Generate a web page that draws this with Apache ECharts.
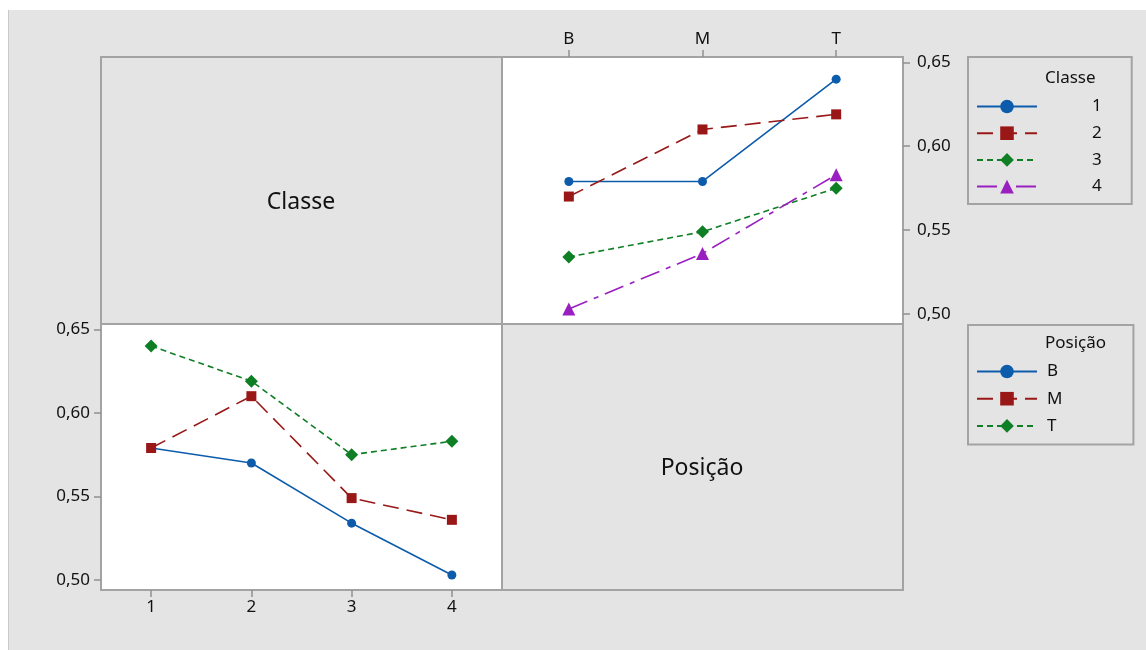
<!DOCTYPE html>
<html>
<head>
<meta charset="utf-8">
<script src="https://cdn.jsdelivr.net/npm/echarts@6/dist/echarts.min.js"></script>
<style>
html,body{margin:0;padding:0;background:#fff;}
#bg{position:absolute;left:8px;top:10px;width:1138px;height:640px;background:#e4e4e4;border-left:1px solid #c9c9c9;box-sizing:border-box;}
#chart{position:absolute;left:0;top:0;width:1146px;height:650px;}
</style>
</head>
<body>
<div id="bg"></div>
<div id="chart"></div>
<script>
// ---- data ----
const posicaoCats = ['B', 'M', 'T'];
const classeCats = ['1', '2', '3', '4'];
// Top-right panel: one line per Classe over Posição
const classe1 = [0.579, 0.579, 0.640];
const classe2 = [0.570, 0.610, 0.619];
const classe3 = [0.534, 0.549, 0.575];
const classe4 = [0.503, 0.536, 0.583];
// Bottom-left panel: one line per Posição over Classe
const posB = [0.579, 0.570, 0.534, 0.503];
const posM = [0.579, 0.610, 0.549, 0.536];
const posT = [0.640, 0.619, 0.575, 0.583];
const yTicks = [0.50, 0.55, 0.60, 0.65];

const BLUE = '#0d5cab', RED = '#9a1717', GREEN = '#0f7f26', PURPLE = '#9a1fc0';
const FONT = 'Noto Sans';
const frame = '#a3a3a3';
const fmt = v => v.toFixed(2).replace('.', ',');

const styles = {
  s1: {color: BLUE, type: 'solid', symbol: 'circle', size: 9},
  s2: {color: RED, type: [16, 8], symbol: 'rect', size: 10},
  s3: {color: GREEN, type: [6, 4], symbol: 'diamond', size: 13},
  s4: {color: PURPLE, type: [20, 7, 5, 7], symbol: 'triangle', size: 13}
};
function mk(name, data, st, xi, yi) {
  return {
    name: name, type: 'line', data: data, xAxisIndex: xi, yAxisIndex: yi,
    symbol: st.symbol, symbolSize: st.size, showSymbol: true,
    lineStyle: {color: st.color, width: 1.6, type: st.type},
    itemStyle: {color: st.color},
    emphasis: {disabled: true}, animation: false
  };
}

const chart = echarts.init(document.getElementById('chart'));
const axisLbl = {color: '#111', fontFamily: FONT, fontSize: 17};
const tickStyle = {show: true, length: 7, lineStyle: {color: '#909090', width: 1.5}};
const option = {
  backgroundColor: 'transparent',
  animation: false,
  grid: [
    {left: 502, top: 57, width: 401, height: 267, show: true, backgroundColor: '#fff', borderColor: frame, borderWidth: 2},
    {left: 101, top: 324, width: 401, height: 266, show: true, backgroundColor: '#fff', borderColor: frame, borderWidth: 2}
  ],
  xAxis: [
    {gridIndex: 0, type: 'category', data: posicaoCats, position: 'top', boundaryGap: true,
     axisLine: {show: true, lineStyle: {color: frame, width: 2}},
     axisTick: Object.assign({alignWithLabel: true}, tickStyle),
     axisLabel: Object.assign({margin: 9}, axisLbl), splitLine: {show: false}},
    {gridIndex: 1, type: 'category', data: classeCats, position: 'bottom', boundaryGap: true,
     axisLine: {show: true, lineStyle: {color: frame, width: 2}},
     axisTick: Object.assign({alignWithLabel: true}, tickStyle),
     axisLabel: Object.assign({margin: 9}, axisLbl), splitLine: {show: false}}
  ],
  yAxis: [
    {gridIndex: 0, type: 'value', position: 'right', min: 0.494, max: 0.6532,
     axisLine: {show: true, lineStyle: {color: frame, width: 2}},
     axisTick: Object.assign({customValues: yTicks}, tickStyle),
     axisLabel: Object.assign({margin: 14, customValues: yTicks, formatter: fmt}, axisLbl),
     splitLine: {show: false}},
    {gridIndex: 1, type: 'value', position: 'left', min: 0.494, max: 0.6532,
     axisLine: {show: true, lineStyle: {color: frame, width: 2}},
     axisTick: Object.assign({customValues: yTicks}, tickStyle),
     axisLabel: Object.assign({margin: 11, customValues: yTicks, formatter: fmt}, axisLbl),
     splitLine: {show: false}}
  ],
  legend: [
    {data: ['1', '2', '3', '4'], orient: 'vertical', left: 968, top: 57,
     padding: [41, 30, 9, 8], itemGap: 9.7, itemWidth: 60, itemHeight: 17,
     borderColor: frame, borderWidth: 2, selectedMode: false,
     textStyle: {color: '#111', fontFamily: FONT, fontSize: 17, padding: [0, 0, 0, 50]}},
    {data: ['B', 'M', 'T'], orient: 'vertical', left: 968, top: 325,
     padding: [38, 71, 10, 8], itemGap: 10.2, itemWidth: 60, itemHeight: 17,
     borderColor: frame, borderWidth: 2, selectedMode: false,
     textStyle: {color: '#111', fontFamily: FONT, fontSize: 17, padding: [0, 0, 0, 5]}}
  ],
  graphic: [
    {type: 'rect', shape: {x: 101, y: 57, width: 401, height: 267}, style: {fill: 'none', stroke: frame, lineWidth: 2}, silent: true},
    {type: 'rect', shape: {x: 502, y: 324, width: 401, height: 266}, style: {fill: 'none', stroke: frame, lineWidth: 2}, silent: true},
    {type: 'text', x: 301, y: 202, style: {text: 'Classe', fill: '#111', font: '23px "Noto Sans"', textAlign: 'center', textVerticalAlign: 'middle'}, silent: true},
    {type: 'text', x: 702, y: 468, style: {text: 'Posição', fill: '#111', font: '23px "Noto Sans"', textAlign: 'center', textVerticalAlign: 'middle'}, silent: true},
    {type: 'text', x: 1045, y: 78, style: {text: 'Classe', fill: '#111', font: '17px "Noto Sans"', textAlign: 'left', textVerticalAlign: 'middle'}, silent: true},
    {type: 'text', x: 1045, y: 343, style: {text: 'Posição', fill: '#111', font: '17px "Noto Sans"', textAlign: 'left', textVerticalAlign: 'middle'}, silent: true}
  ],
  series: [
    mk('1', classe1, styles.s1, 0, 0),
    mk('2', classe2, styles.s2, 0, 0),
    mk('3', classe3, styles.s3, 0, 0),
    mk('4', classe4, styles.s4, 0, 0),
    mk('B', posB, styles.s1, 1, 1),
    mk('M', posM, styles.s2, 1, 1),
    mk('T', posT, styles.s3, 1, 1)
  ]
};
chart.setOption(option);
</script>
</body>
</html>
